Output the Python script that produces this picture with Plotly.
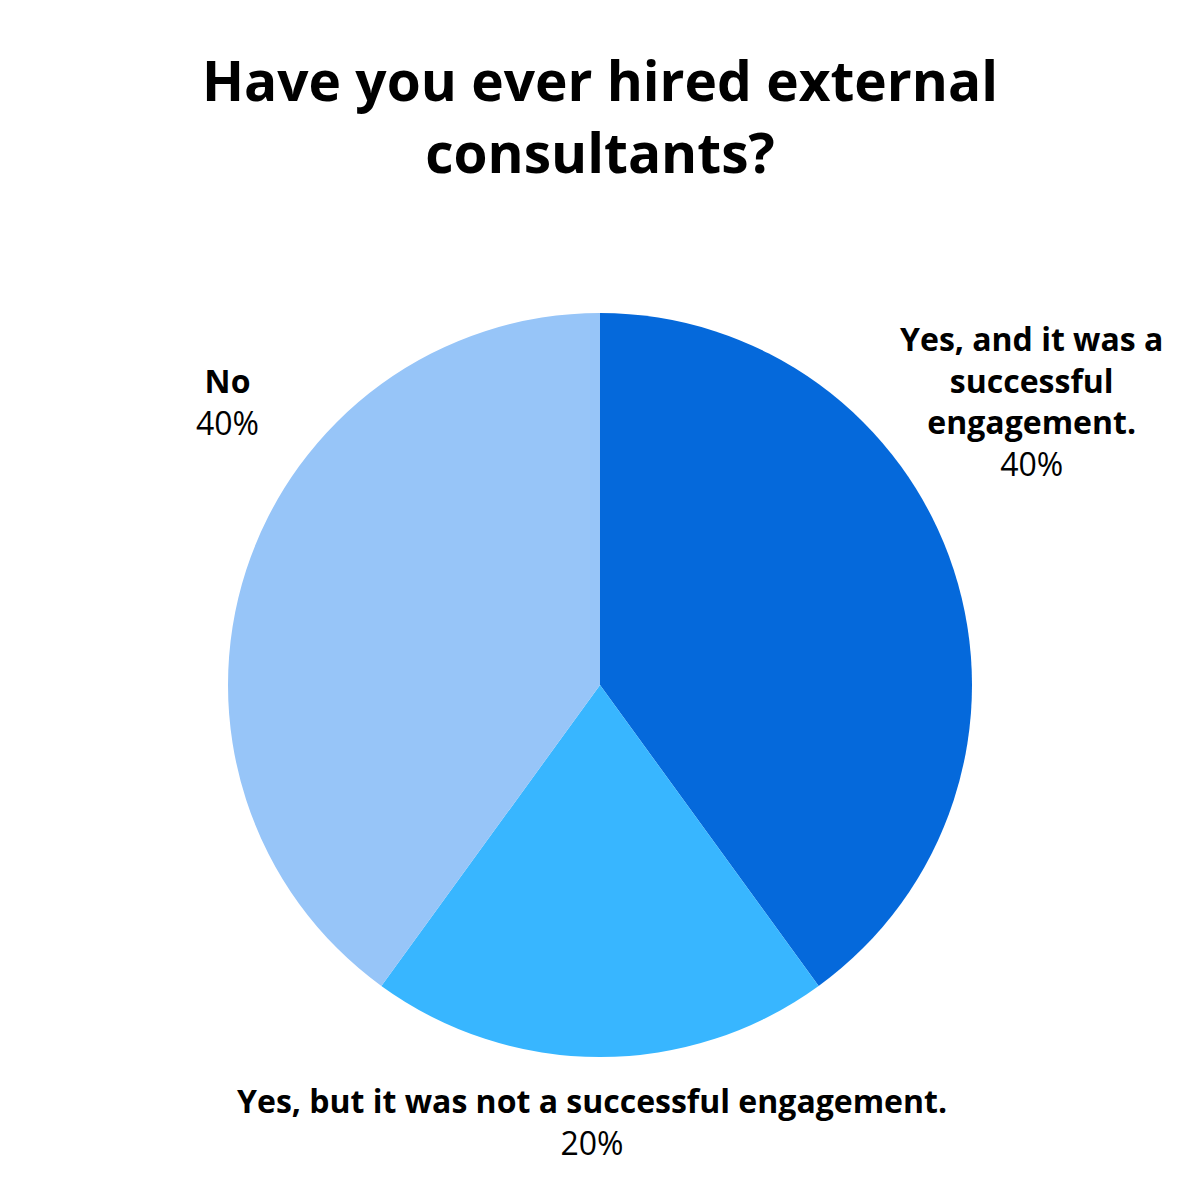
import plotly.graph_objects as go

# survey answers, clockwise from 12 o'clock
labels = [
    "Yes, and it was a successful engagement.",
    "Yes, but it was not a successful engagement.",
    "No",
]
label_lines = [
    ["Yes, and it was a", "successful", "engagement."],
    ["Yes, but it was not a successful engagement."],
    ["No"],
]
values = [40, 20, 40]
colors = ["#0569DB", "#38B6FF", "#97C5F8"]
title_lines = ["Have you ever hired external", "consultants?"]

W = H = 1200
OFF = 8  # page body margin
FONT = "Open Sans"

# centres of the outside label blocks, in reference pixels
label_pos = [(1031, 401), (592, 1121), (228, 401)]
title_pos = (600, 116)


def px2paper(x, y):
    return (x - OFF) / W, 1 - (y - OFF) / H


x0, y0 = px2paper(228, 1057)
x1, y1 = px2paper(972, 313)
fig = go.Figure(go.Pie(
    labels=labels, values=values, sort=False, direction="clockwise",
    rotation=0, marker=dict(colors=colors, line=dict(width=0)),
    textinfo="none", hoverinfo="label+percent",
    domain=dict(x=[x0, x1], y=[y0, y1]),
    showlegend=False,
))

total = sum(values)
for lines, v, (lx, ly) in zip(label_lines, values, label_pos):
    txt = "<br>".join(f"<b>{l}</b>" for l in lines) + f"<br>{v / total:.0%}"
    ax, ay = px2paper(lx, ly)
    fig.add_annotation(
        x=ax, y=ay, xref="paper", yref="paper",
        text=txt, showarrow=False, xanchor="center", yanchor="middle",
        font=dict(family=FONT, size=32, color="#000000"),
    )

ax, ay = px2paper(*title_pos)
fig.add_annotation(
    x=ax, y=ay, xref="paper", yref="paper",
    text="<br>".join(f"<b>{l}</b>" for l in title_lines), showarrow=False,
    xanchor="center", yanchor="middle",
    font=dict(family=FONT, size=55, color="#000000"),
)

fig.update_layout(
    width=W, height=H,
    margin=dict(l=0, r=0, t=0, b=0),
    paper_bgcolor="white", plot_bgcolor="white",
)

fig.write_html("out.html")
